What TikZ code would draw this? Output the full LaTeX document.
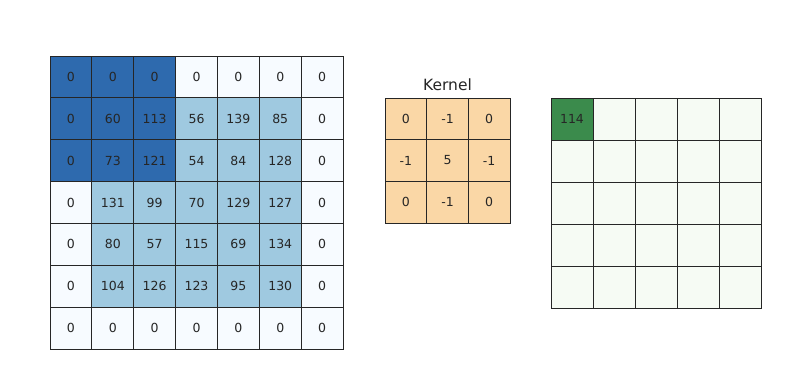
\documentclass[tikz,border=0pt]{standalone}
\usepackage{fontspec}
\setmainfont{DejaVu Sans}
\definecolor{bdark}{HTML}{2E6AAE}
\definecolor{blight}{HTML}{9FC9E0}
\definecolor{bwhite}{HTML}{F7FBFF}
\definecolor{korange}{HTML}{FAD7A6}
\definecolor{gwhite}{HTML}{F6FBF4}
\definecolor{gdark}{HTML}{3B8B4C}
\definecolor{txt}{HTML}{262626}
\begin{document}
\begin{tikzpicture}[x=1pt,y=-1pt,
  cell/.style={draw=black!85, line width=0.9pt, anchor=north west, inner sep=0pt, outer sep=0pt,
    minimum width=#1, minimum height=#1, text=txt, font=\fontsize{12.5}{14}\selectfont},
  ttl/.style={text=txt, font=\fontsize{15.5}{18}\selectfont, inner sep=0pt}]
\useasboundingbox (0,0) rectangle (790,388);
\fill[white] (0,0) rectangle (790,388);
% input grid
\def\cs{41.86}
\foreach \row [count=\r from 0] in {{0,0,0,0,0,0,0},{0,60,113,56,139,85,0},{0,73,121,54,84,128,0},{0,131,99,70,129,127,0},{0,80,57,115,69,134,0},{0,104,126,123,95,130,0},{0,0,0,0,0,0,0}}{
  \foreach \v [count=\c from 0] in \row {
    \pgfmathsetmacro{\isdark}{(\r<=2 && \c<=2) ? 1 : 0}
    \pgfmathsetmacro{\islight}{(\r>=1 && \r<=5 && \c>=1 && \c<=5) ? 1 : 0}
    \ifnum\isdark=1 \def\fc{bdark}\else\ifnum\islight=1 \def\fc{blight}\else\def\fc{bwhite}\fi\fi
    \node[cell=\cs, fill=\fc] (in-\r-\c) at ({50+\c*\cs},{56+\r*\cs}) {\v};
  }
}
% kernel
\def\ks{41.67}
\foreach \row [count=\r from 0] in {{0,-1,0},{-1,5,-1},{0,-1,0}}{
  \foreach \v [count=\c from 0] in \row {
    \node[cell=\ks, fill=korange] (k-\r-\c) at ({385+\c*\ks},{98+\r*\ks}) {\v};
  }
}
\node[ttl, anchor=base] (ktitle) at (447.5,90) {Kernel};
% output
\def\os{42}
\foreach \r in {0,...,4}{
  \foreach \c in {0,...,4}{
    \node[cell=\os, fill=gwhite] (out-\r-\c) at ({551+\c*\os},{98+\r*\os}) {};
  }
}
\node[cell=\os, fill=gdark] (out-0-0) at (551,98) {114};
\end{tikzpicture}
\end{document}
